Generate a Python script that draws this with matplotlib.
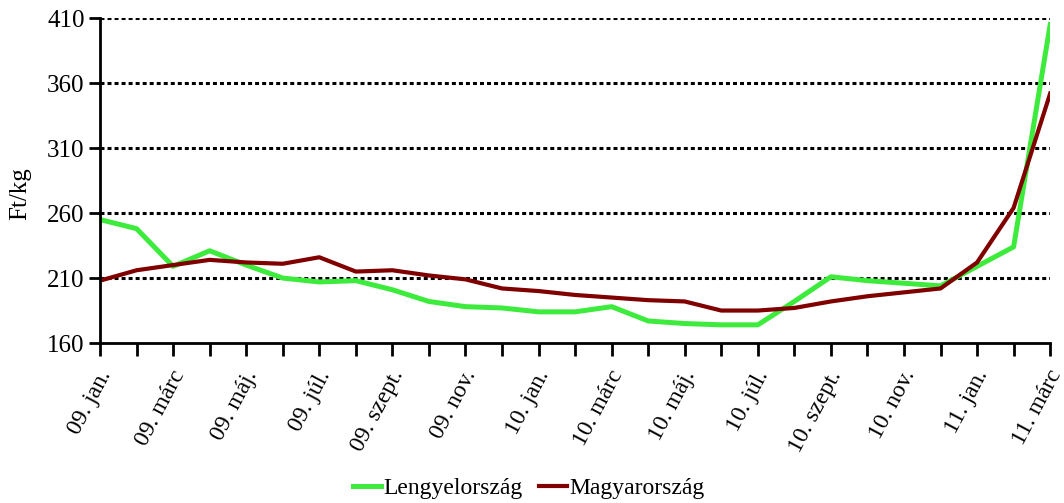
import numpy as np
import matplotlib.pyplot as plt
from matplotlib.ticker import FixedLocator
from matplotlib.transforms import ScaledTranslation

months = ["09. jan.", "09. febr.", "09. márc", "09. ápr.", "09. máj.", "09. jún.",
          "09. júl.", "09. aug.", "09. szept.", "09. okt.", "09. nov.", "09. dec.",
          "10. jan.", "10. febr.", "10. márc", "10. ápr.", "10. máj.", "10. jún.",
          "10. júl.", "10. aug.", "10. szept.", "10. okt.", "10. nov.", "10. dec.",
          "11. jan.", "11. febr.", "11. márc"]

lengyel = [255, 248, 219, 231, 220, 210, 207, 208, 201, 192, 188, 187,
           184, 184, 188, 177, 175, 174, 174, 192, 211, 208, 206, 204,
           219, 234, 405]
magyar = [208, 216, 220, 224, 222, 221, 226, 215, 216, 212, 209, 202,
          200, 197, 195, 193, 192, 185, 185, 187, 192, 196, 199, 202,
          222, 264, 352]

y_ticks = [160, 210, 260, 310, 360, 410]

plt.rcParams['font.family'] = ['Liberation Serif', 'DejaVu Serif']
fs = 18

fig = plt.figure(figsize=(10.64, 5.03), dpi=100)
ax = fig.add_axes([0.094, 0.318, 0.893, 0.646])

x = np.arange(len(months))
ax.plot(x, lengyel, color='#3deb3d', lw=3.6, label='Lengyelország')
ax.plot(x, magyar, color='#800000', lw=3.0, label='Magyarország')

ax.set_xlim(0, len(months) - 1)
ax.set_ylim(160, 410)
ax.set_yticks(y_ticks)
ax.tick_params(axis='y', labelsize=fs, width=2, length=8, direction='out', pad=3)
for v in y_ticks[1:]:
    ax.axhline(v, color='black', lw=2.2, ls=(0, (1.3, 1.0)), zorder=0)

ax.xaxis.set_major_locator(FixedLocator(x))
ax.set_xticklabels([m if i % 2 == 0 else '' for i, m in enumerate(months)],
                   rotation=62, ha='right', va='top', rotation_mode='anchor', fontsize=17)
ax.tick_params(axis='x', width=2, length=9, direction='out', pad=8)
shift = ScaledTranslation(-3 / 100, 0, fig.dpi_scale_trans)
for lab in ax.get_xticklabels():
    lab.set_transform(lab.get_transform() + shift)

for s in ['top', 'right']:
    ax.spines[s].set_visible(False)
for s in ['left', 'bottom']:
    ax.spines[s].set_linewidth(2)

ax.set_ylabel('Ft/kg', fontsize=fs)
ax.yaxis.set_label_coords(-0.072, 0.46)

fig.legend(loc='lower center', bbox_to_anchor=(0.497, -0.035), ncol=2, frameon=False,
           fontsize=17, handlelength=1.2, handletextpad=0.1, columnspacing=0.7)

fig.savefig('out.png', dpi=100)
